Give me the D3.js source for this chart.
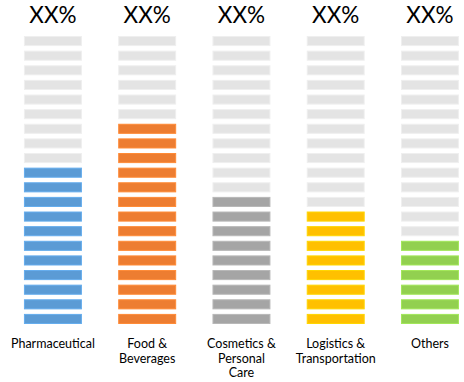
<!DOCTYPE html>
<html>
<head>
<meta charset="utf-8">
<script src="https://cdn.jsdelivr.net/npm/d3@7"></script>
<style>
  body { margin: 0; background: #fff; }
  text { font-family: Lato, "Open Sans", sans-serif; fill: #000; }
</style>
</head>
<body>
<div id="chart"></div>
<script>
// Categories, filled segment counts and top labels
var categories = ["Pharmaceutical", "Food & Beverages", "Cosmetics & Personal Care", "Logistics & Transportation", "Others"];
var labelLines = [["Pharmaceutical"], ["Food &", "Beverages"], ["Cosmetics &", "Personal", "Care"], ["Logistics &", "Transportation"], ["Others"]];
var filled = [11, 14, 9, 8, 6];
var topLabels = ["XX%", "XX%", "XX%", "XX%", "XX%"];
var totalSegments = 20;

// Segment colours
var colors = ["#5b9bd5", "#ed7d31", "#a5a5a5", "#ffc000", "#92d050"];
var emptyColor = "#e4e4e4";

var width = 464;
var height = 382;

var svg = d3.select("#chart")
  .append("svg")
  .attr("width", width)
  .attr("height", height);

// x scale for the columns
var xScale = d3.scaleBand()
  .domain(categories)
  .range([5.8, 477.1])
  .paddingInner(0.385)
  .paddingOuter(0.1925);

// y scale for the segments, 0 at the bottom
var yScale = d3.scaleBand()
  .domain(d3.range(totalSegments).reverse())
  .range([36, 324])
  .paddingInner(0.31)
  .paddingOuter(0);

var cols = svg.selectAll("g.col")
  .data(categories)
  .enter()
  .append("g")
  .attr("class", "col")
  .attr("transform", function(d) { return "translate(" + xScale(d) + ",0)"; });

cols.each(function(cat, ci) {
  d3.select(this).selectAll("rect")
    .data(d3.range(totalSegments))
    .enter()
    .append("rect")
    .attr("x", 0.5)
    .attr("y", function(i) { return yScale(i) + 0.5; })
    .attr("width", xScale.bandwidth() - 1)
    .attr("height", yScale.bandwidth() - 1)
    .attr("fill", function(i) { return i < filled[ci] ? colors[ci] : emptyColor; })
    .attr("stroke", function(i) { return i < filled[ci] ? d3.color(colors[ci]).brighter(0.3) : "#efefef"; })
    .attr("stroke-width", 1);
});

// Top percentage labels
cols.append("text")
  .attr("x", xScale.bandwidth() / 2)
  .attr("y", 23)
  .attr("text-anchor", "middle")
  .attr("font-size", 22.5)
  .text(function(d, i) { return topLabels[i]; });

// Category labels under the columns
cols.each(function(cat, ci) {
  d3.select(this).append("text")
    .attr("text-anchor", "middle")
    .attr("font-size", 12.5)
    .selectAll("tspan")
    .data(labelLines[ci])
    .enter()
    .append("tspan")
    .attr("x", xScale.bandwidth() / 2)
    .attr("y", function(d, li) { return 348 + li * 14.5; })
    .text(function(d) { return d; });
});
</script>
</body>
</html>
